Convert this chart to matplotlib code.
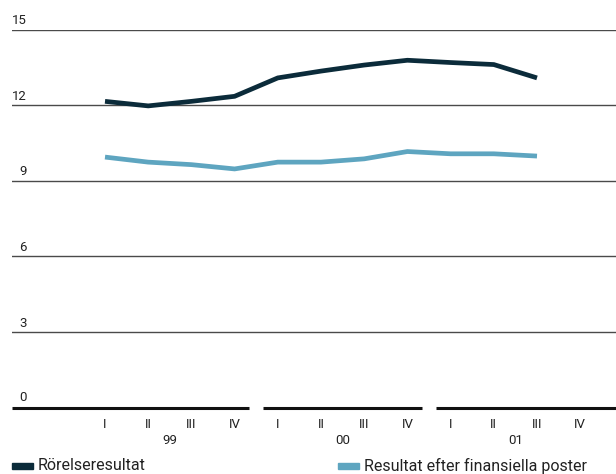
import matplotlib.pyplot as plt
import matplotlib.patches as mpatches
import numpy as np

plt.rcParams['font.family'] = ['Roboto', 'DejaVu Sans']

quarters = ['I', 'II', 'III', 'IV'] * 3
years = ['99', '00', '01']
rorelse = [12.15, 11.97, 12.15, 12.35, 13.08, 13.35, 13.59, 13.78, 13.69, 13.61, 13.08]
finans = [9.94, 9.74, 9.64, 9.47, 9.74, 9.74, 9.87, 10.16, 10.07, 10.07, 9.98]
yticks = [0, 3, 6, 9, 12, 15]
labels = ['Rörelseresultat', 'Resultat efter finansiella poster']

dark = '#0b2b3a'
light = '#5ea5c0'

W, H = 616, 474
fig = plt.figure(figsize=(W / 100, H / 100), dpi=100)
# axes in pixel terms: x 12..616, y 29.5..407.7 (from top)
ax = fig.add_axes([12 / W, (H - 407.7) / H, (W - 12) / W, (407.7 - 29.5) / H])
step = 43.2
x0 = 105
ax.set_xlim((12 - x0) / step, (W - x0) / step)
ax.set_ylim(0, 15)
ax.axis('off')

# grid lines
for yv in yticks[1:]:
    ax.axhline(yv, color='#4a4a4a', lw=1.0, zorder=1)
    ax.text(-1.81, yv + 0.1, str(yv), ha='right', va='bottom', fontsize=9.5, color='#222')
ax.text(-1.81, 0.16, '0', ha='right', va='bottom', fontsize=9.5, color='#222')

# broken zero line, one segment per year
xl = ax.get_xlim()
edges = [xl[0], 3.5, 7.5, xl[1]]
for k in range(3):
    a = edges[k] + (0.16 if k > 0 else 0)
    b = edges[k + 1] - (0.16 if k < 2 else 0)
    ax.plot([a, b], [0, 0], color='#111', lw=2.2, solid_capstyle='butt', clip_on=False, zorder=2)

xs = np.arange(len(rorelse))
ax.plot(xs, rorelse, color=dark, lw=3.4, solid_joinstyle='miter', solid_capstyle='butt', zorder=3)
ax.plot(xs, finans, color=light, lw=3.4, solid_joinstyle='miter', solid_capstyle='butt', zorder=3)

# category labels
ax_h = 407.7 - 29.5
for i, q in enumerate(quarters):
    ax.text(i, -(424 - 407.7) / ax_h * 15, q, ha='center', va='center', fontsize=9.5, color='#222')
for k, yr in enumerate(years):
    ax.text(4 * k + 1.5, -(441 - 407.7) / ax_h * 15, yr, ha='center', va='center', fontsize=9.5, color='#222')

# legend
for px, lab, col in [(12, labels[0], dark), (338, labels[1], light)]:
    fig.patches.append(mpatches.Rectangle((px / W, (H - 468.5) / H), 21 / W, 5.5 / H,
                                          transform=fig.transFigure, color=col))
    fig.text((px + 26) / W, (H - 465.5) / H, lab, ha='left', va='center', fontsize=11.5, color='#222')

fig.savefig('out.png', dpi=100)
